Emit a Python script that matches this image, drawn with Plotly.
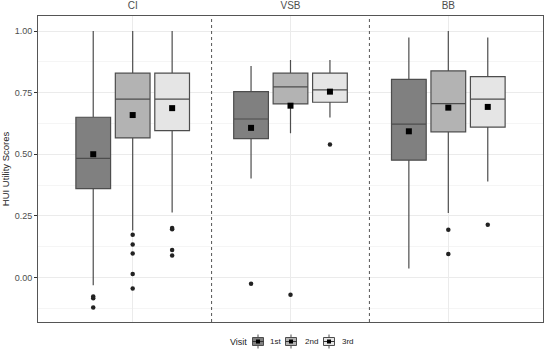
import plotly.graph_objects as go

groups = ["CI", "VSB", "BB"]
visits = ["1st", "2nd", "3rd"]
fills = ["#808080", "#b3b3b3", "#e5e5e5"]

# stats per visit, each list ordered CI, VSB, BB
upper = {"1st": [1.00, 0.858, 0.974], "2nd": [1.00, 0.882, 1.00], "3rd": [1.00, 0.882, 0.974]}
q3 = {"1st": [0.650, 0.754, 0.804], "2nd": [0.829, 0.829, 0.838], "3rd": [0.829, 0.829, 0.815]}
median = {"1st": [0.483, 0.643, 0.622], "2nd": [0.724, 0.773, 0.705], "3rd": [0.724, 0.761, 0.724]}
q1 = {"1st": [0.360, 0.563, 0.476], "2nd": [0.566, 0.704, 0.591], "3rd": [0.596, 0.711, 0.610]}
lower = {"1st": [-0.032, 0.401, 0.036], "2nd": [0.19, 0.585, 0.261], "3rd": [0.263, 0.649, 0.389]}
means = {"1st": [0.500, 0.607, 0.593], "2nd": [0.659, 0.697, 0.689], "3rd": [0.687, 0.754, 0.692]}
outliers = {
    "1st": [[-0.077, -0.085, -0.122], [-0.026], []],
    "2nd": [[0.173, 0.134, 0.097, 0.014, -0.045], [-0.070], [0.193, 0.095]],
    "3rd": [[0.201, 0.195, 0.111, 0.089], [0.539], [0.214]],
}

offsets = [-0.25, 0.0, 0.25]
box_w = 0.22

FIG_W, FIG_H = 550, 355
M_L, M_R, M_T, M_B = 38, 7, 16, 33
PLOT_W = FIG_W - M_L - M_R
PLOT_H = FIG_H - M_T - M_B


def px(wx):
    return (wx - M_L) / PLOT_W


def py(wy):
    return (FIG_H - M_B - wy) / PLOT_H


fig = go.Figure()
for vi, v in enumerate(visits):
    xs = [gi + offsets[vi] for gi in range(len(groups))]
    fig.add_trace(go.Box(
        x=xs, q1=q1[v], median=median[v], q3=q3[v],
        lowerfence=lower[v], upperfence=upper[v],
        width=box_w, boxpoints=False,
        fillcolor=fills[vi], line=dict(color="#4d4d4d", width=1.2),
        name=v, legendgroup=v, showlegend=False, whiskerwidth=0,
    ))
    ox, oy = [], []
    for gi in range(len(groups)):
        for val in outliers[v][gi]:
            ox.append(gi + offsets[vi])
            oy.append(val)
    fig.add_trace(go.Scatter(
        x=ox, y=oy, mode="markers",
        marker=dict(color="#222222", size=4.5),
        showlegend=False, legendgroup=v, hoverinfo="y",
    ))
    fig.add_trace(go.Scatter(
        x=xs, y=means[v], mode="markers",
        marker=dict(color="black", size=6, symbol="square"),
        showlegend=False, legendgroup=v,
    ))

for xb in [0.5, 1.5]:
    fig.add_shape(type="line", x0=xb, x1=xb, y0=0, y1=1, xref="x", yref="paper",
                  line=dict(color="#555555", width=1, dash="dot"))

# legend (ggplot-style, drawn compactly)
leg_y = 341.5
fig.add_annotation(text="Visit", x=px(228), y=py(leg_y), xref="paper", yref="paper",
                   xanchor="left", yanchor="middle", showarrow=False,
                   font=dict(size=9, color="#222222"))
icon_cx = [258, 291, 329]
label_x = [268, 303, 340]
for vi, v in enumerate(visits):
    cx = icon_cx[vi]
    fig.add_shape(type="line", x0=px(cx), x1=px(cx), y0=py(334.5), y1=py(348.5),
                  xref="paper", yref="paper", line=dict(color="#4d4d4d", width=1))
    fig.add_shape(type="rect", x0=px(cx - 5.5), x1=px(cx + 5.5), y0=py(337.5), y1=py(345.5),
                  xref="paper", yref="paper", fillcolor=fills[vi],
                  line=dict(color="#4d4d4d", width=1))
    fig.add_shape(type="line", x0=px(cx - 5.5), x1=px(cx + 5.5), y0=py(leg_y), y1=py(leg_y),
                  xref="paper", yref="paper", line=dict(color="#333333", width=1))
    fig.add_shape(type="rect", x0=px(cx - 2), x1=px(cx + 2), y0=py(leg_y - 2), y1=py(leg_y + 2),
                  xref="paper", yref="paper", fillcolor="black", line=dict(width=0))
    fig.add_annotation(text=v, x=px(label_x[vi]), y=py(leg_y), xref="paper", yref="paper",
                       xanchor="left", yanchor="middle", showarrow=False,
                       font=dict(size=8, color="#222222"))

fig.update_layout(
    width=FIG_W, height=FIG_H,
    margin=dict(l=M_L, r=M_R, t=M_T, b=M_B, autoexpand=False),
    paper_bgcolor="white", plot_bgcolor="white",
    font=dict(family="Liberation Sans, Arial, sans-serif", color="#4d4d4d", size=10),
    showlegend=False,
)
fig.update_xaxes(
    range=[-0.6, 2.6], tickvals=[0, 1, 2], ticktext=groups, side="top",
    ticks="", showgrid=True, gridcolor="#ebebeb", gridwidth=1, automargin=False,
    zeroline=False, showline=True, linecolor="#555555", mirror=True,
    tickfont=dict(size=10, color="#4d4d4d"), ticklabelstandoff=2,
)
fig.update_yaxes(
    range=[-0.181, 1.061], tickvals=[0, 0.25, 0.5, 0.75, 1.0],
    ticktext=["0.00", "0.25", "0.50", "0.75", "1.00"], automargin=False,
    ticks="outside", ticklen=3, tickcolor="#333333",
    showgrid=True, gridcolor="#ebebeb", gridwidth=1,
    minor=dict(tickvals=[-0.125, 0.125, 0.375, 0.625, 0.875], showgrid=True,
               gridcolor="#f5f5f5", ticks=""),
    zeroline=False, showline=True, linecolor="#555555", mirror=True,
    title=dict(text="HUI Utility Scores", font=dict(size=9.5, color="#222222"), standoff=5),
    tickfont=dict(size=9, color="#4d4d4d"),
)
fig.write_html("out.html", config={"displayModeBar": False},
               post_script="document.body.style.margin='0';document.body.style.overflow='hidden';")
